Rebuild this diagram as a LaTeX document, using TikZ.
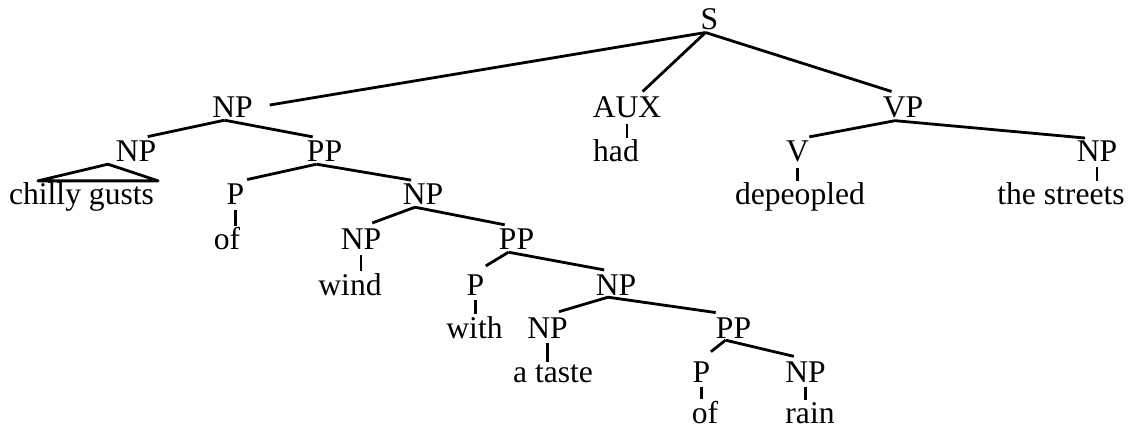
\documentclass[tikz,border=0pt]{standalone}
\usepackage{fontspec}
\setmainfont{Liberation Serif}
\usepackage{tikz}
\usetikzlibrary{
  calc,
  positioning,
}
\newcommand{\treefont}{\fontsize{31.6}{36}\selectfont}
\tikzset{
  tag/.style={anchor=base, inner xsep=1pt, inner ysep=2pt, font=\treefont},
  branch/.style={line width=2.8pt, shorten >=12pt},
  tick/.style={line width=2.8pt, shorten <=3pt},
}

\begin{document}
\begin{tikzpicture}[x=1pt,y=-1pt]
			\useasboundingbox (0,0) rectangle (1131,427);

			\node[tag] (s)   at (709.5,30) {S};

			\node[tag] (np1) at (232.5,118) {NP};
			\node[tag] (aux) at (627,118)   {AUX};
			\node[tag] (vp)  at (903,118)   {VP};

			\node[tag] (np2) at (136,162)   {NP};
			\node[tag] (pp1) at (324.5,162) {PP};
			\node[tag] (had) at (616,162)   {had};
			\node[tag] (v)   at (797.5,162) {V};
			\node[tag] (np3) at (1097,162)  {NP};

			\node[tag] (gusts)     at (81.5,205) {chilly gusts};
			\node[tag] (p1)        at (235.5,205) {P};
			\node[tag] (np4)       at (423,205)  {NP};
			\node[tag] (depeopled) at (800,205)  {depeopled};
			\node[tag] (streets)   at (1061,205) {the streets};

			\node[tag] (of1) at (227,250)   {of};
			\node[tag] (np5) at (361,250)   {NP};
			\node[tag] (pp2) at (516.5,250) {PP};

			\node[tag] (wind) at (350,295)   {wind};
			\node[tag] (p2)   at (475.5,295) {P};
			\node[tag] (np6)  at (616,295)   {NP};

			\node[tag] (with) at (474.5,338) {with};
			\node[tag] (np7)  at (547.5,338) {NP};
			\node[tag] (pp3)  at (733.5,338) {PP};

			\node[tag] (taste) at (553,382)   {a taste};
			\node[tag] (p3)    at (701.5,382) {P};
			\node[tag] (np8)   at (805.5,382) {NP};

			\node[tag] (of2)  at (705,423.5) {of};
			\node[tag] (rain) at (810,423.5) {rain};

			\draw[branch,shorten >=16pt] ([xshift=-4]s.south) -- (np1.east);
			\draw[branch,shorten >=5pt] ([xshift=-4]s.south) -- ([xshift=12]aux.north);
			\draw[branch] ([xshift=-4]s.south) -- (vp.north);

			\draw[branch] ([xshift=-8]np1.south) -- (np2.north);
			\draw[branch] ([xshift=-8]np1.south) -- (pp1.north);
			\draw[branch] ([xshift=-8]vp.south) -- (v.north);
			\draw[branch] ([xshift=-8]vp.south) -- (np3.north);
			\draw[branch] ([xshift=-8]pp1.south) -- (p1.north);
			\draw[branch] ([xshift=-8]pp1.south) -- (np4.north);
			\draw[branch] ([xshift=-8]np4.south) -- (np5.north);
			\draw[branch] ([xshift=-8]np4.south) -- (pp2.north);
			\draw[branch] ([xshift=-8]pp2.south) -- (p2.north);
			\draw[branch] ([xshift=-8]pp2.south) -- (np6.north);
			\draw[branch] ([xshift=-8]np6.south) -- (np7.north);
			\draw[branch,shorten >=18pt] ([xshift=-8]np6.south) -- (pp3.north);
			\draw[branch] ([xshift=-8]pp3.south) -- (p3.north);
			\draw[branch] ([xshift=-8]pp3.south) -- (np8.north);

			\draw[line width=2.8pt,line join=round] ([xshift=-28]np2.south) -- ([xshift=30]gusts.north west) -- ([xshift=3]gusts.north east) -- cycle;

			\draw[tick] (aux.south) -- (aux.south |- had.north);
			\draw[tick] (v.south) -- (v.south |- depeopled.north);
			\draw[tick] (np3.south) -- (np3.south |- streets.north);
			\draw[tick] (p1.south) -- (p1.south |- of1.north);
			\draw[tick] (np5.south) -- (np5.south |- wind.north);
			\draw[tick] (p2.south) -- (p2.south |- with.north);
			\draw[tick] (np7.south) -- (np7.south |- taste.north);
			\draw[tick] (p3.south) -- (p3.south |- of2.north);
			\draw[tick] (np8.south) -- (np8.south |- rain.north);
		\end{tikzpicture}
\end{document}
